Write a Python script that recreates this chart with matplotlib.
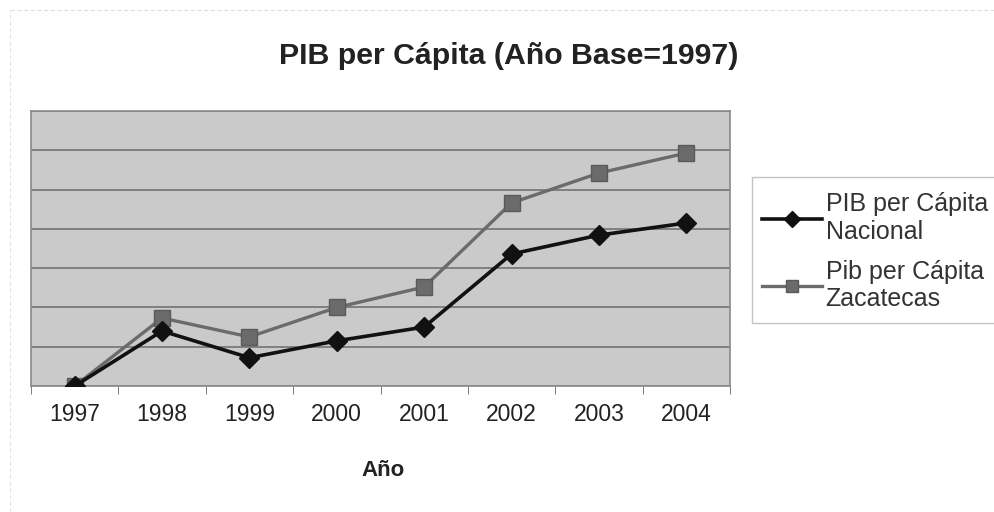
import matplotlib
matplotlib.use("Agg")
import matplotlib.pyplot as plt
from matplotlib.lines import Line2D
from matplotlib.patches import Rectangle
import numpy as np

years = ["1997", "1998", "1999", "2000", "2001", "2002", "2003", "2004"]
nacional = [0.0, 1.40, 0.72, 1.15, 1.50, 3.36, 3.84, 4.15]
zacatecas = [0.0, 1.73, 1.25, 2.00, 2.52, 4.66, 5.42, 5.93]
label_nacional = "PIB per Cápita\nNacional"
label_zacatecas = "Pib per Cápita\nZacatecas"
title = "PIB per Cápita (Año Base=1997)"
xlabel = "Año"

plt.rcParams['font.family'] = ['Liberation Sans', 'DejaVu Sans']

W, H = 995, 512
fig = plt.figure(figsize=(W/100, H/100), dpi=100)

# faint outer frame (top and left edges)
fig.add_artist(Line2D([10/W, 1], [1-10/H, 1-10/H], color='#dedede', lw=0.8,
                      linestyle=(0, (4, 2))))
fig.add_artist(Line2D([10/W, 10/W], [0, 1-10/H], color='#e4e4e4', lw=0.8,
                      linestyle=(0, (4, 2))))

ax = fig.add_axes([31/W, 1-386/H, (730-31)/W, (386-111)/H])
ax.set_facecolor('#cacaca')

x = np.arange(len(years))
ax.plot(x, zacatecas, color='#6b6b6b', lw=2.4, marker='s', markersize=11,
        markerfacecolor='#6b6b6b', markeredgecolor='#5a5a5a', label=label_zacatecas, zorder=3)
ax.plot(x, nacional, color='#111111', lw=2.6, marker='D', markersize=10,
        markerfacecolor='#111111', markeredgecolor='#111111', label=label_nacional, zorder=4)

ax.set_xlim(-0.5, len(years) - 0.5)
ax.set_ylim(0, 7)
ax.set_yticks(np.arange(0, 8))
ax.yaxis.grid(True, color='#7a7a7a', lw=1.3)
ax.set_axisbelow(True)
ax.tick_params(axis='y', left=False, labelleft=False)

ax.set_xticks(x)
ax.set_xticklabels(years, fontsize=16.5, color='#222222')
ax.set_xticks(np.arange(-0.5, len(years)), minor=True)
ax.tick_params(axis='x', which='major', length=0, pad=12)
ax.tick_params(axis='x', which='minor', length=6, color='#666666', direction='out')

for s in ax.spines.values():
    s.set_color('#8a8a8a')
    s.set_linewidth(1.2)

fig.text(383/W, 1-470/H, xlabel, ha='center', va='center', fontsize=16,
         fontweight='bold', color='#222222')
fig.text(509/W, 1-56/H, title, ha='center', va='center', fontsize=21.8,
         fontweight='bold', color='#222222')

# legend box
fig.add_artist(Rectangle((752/W, 1-323/H), (W+5-752)/W, (323-177)/H,
                         transform=fig.transFigure, facecolor='white',
                         edgecolor='#c4c4c4', lw=1.0, zorder=1))

handles, labels = ax.get_legend_handles_labels()
leg = fig.legend(handles[::-1], labels[::-1], loc='upper left',
                 bbox_to_anchor=(762/W, 1-192/H), fontsize=18,
                 frameon=False, handlelength=2.4, handletextpad=0.15,
                 labelspacing=0.63, borderpad=0, borderaxespad=0,
                 labelcolor='#333333', markerscale=0.8)
leg.set_zorder(2)

fig.savefig("out.png", dpi=100)
